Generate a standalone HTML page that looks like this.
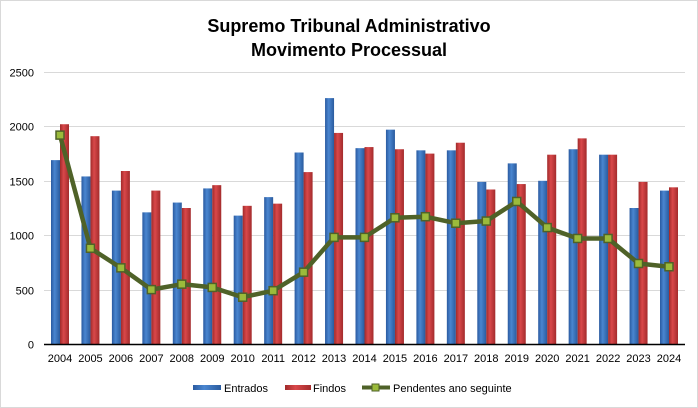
<!DOCTYPE html>
<html><head><meta charset="utf-8"><style>
html,body{margin:0;padding:0;background:#fff}
svg{display:block;font-family:"Liberation Sans",sans-serif}
</style></head><body>
<svg id="c" width="698" height="408" viewBox="0 0 698 408" xmlns="http://www.w3.org/2000/svg">
<defs>
<linearGradient id="gb" x1="0" x2="1" y1="0" y2="0"><stop offset="0" stop-color="#2a5aa0"/><stop offset="0.4" stop-color="#4a86d0"/><stop offset="1" stop-color="#2a5b9e"/></linearGradient>
<linearGradient id="gr" x1="0" x2="1" y1="0" y2="0"><stop offset="0" stop-color="#a02a2a"/><stop offset="0.4" stop-color="#d9484a"/><stop offset="1" stop-color="#a32b2c"/></linearGradient>
</defs>
<rect x="0.5" y="0.5" width="697" height="407" fill="#fff" stroke="#d9d9d9"/>
<text x="349" y="32" text-anchor="middle" font-size="18" font-weight="bold">Supremo  Tribunal  Administrativo</text>
<text x="349" y="56" text-anchor="middle" font-size="18" font-weight="bold">Movimento Processual</text>
<g id="grid" stroke="#d9d9d9" stroke-width="1"></g>
<g id="yl" font-size="11" text-anchor="end"></g>
<g id="bars"></g>
<line x1="44" y1="344.5" x2="685" y2="344.5" stroke="#000" stroke-width="1.5"/>
<g id="xl" font-size="11" text-anchor="middle"></g>
<g id="ln"></g>
<g font-size="11">
<rect x="193" y="385" width="28" height="5" fill="url(#gb)"/><text x="224" y="392">Entrados</text>
<rect x="285" y="385" width="26" height="5" fill="url(#gr)"/><text x="313" y="392">Findos</text>
<line x1="362" y1="387.5" x2="390" y2="387.5" stroke="#4f6228" stroke-width="4"/>
<rect x="372" y="384" width="7" height="7" fill="#9bbb3b" stroke="#4f6228"/>
<text x="393" y="392">Pendentes ano seguinte</text>
</g>
</svg>
<script>
var E=[1690,1540,1410,1210,1300,1430,1180,1350,1760,2260,1800,1970,1780,1780,1490,1660,1500,1790,1740,1250,1410];
var F=[2020,1910,1590,1410,1250,1460,1270,1290,1580,1940,1810,1790,1750,1850,1420,1470,1740,1890,1740,1490,1440];
var P=[1920,880,700,500,550,520,430,490,660,980,980,1160,1170,1110,1130,1310,1070,970,970,740,710];
var ns="http://www.w3.org/2000/svg";
function el(p,t,a,txt){var e=document.createElementNS(ns,t);for(var k in a)e.setAttribute(k,a[k]);if(txt!=null)e.textContent=txt;document.getElementById(p).appendChild(e);return e;}
function Y(v){return 344-v*0.1088;}
for(var v=0;v<=2500;v+=500){var y=Math.round(Y(v))+0.5;if(v>0)el("grid","line",{x1:44,x2:685,y1:y,y2:y});el("yl","text",{x:34,y:y+4},v);}
var pts=[];
for(var i=0;i<21;i++){var cx=60+30.45*i;
el("bars","rect",{x:cx-9,y:Y(E[i]),width:9,height:344-Y(E[i]),fill:"url(#gb)"});
el("bars","rect",{x:cx,y:Y(F[i]),width:9,height:344-Y(F[i]),fill:"url(#gr)"});
el("xl","text",{x:cx,y:362},2004+i);
pts.push(cx+","+Y(P[i]));}
el("ln","polyline",{points:pts.join(" "),fill:"none",stroke:"#4f6228","stroke-width":4.5,"stroke-linejoin":"round"});
for(var i=0;i<21;i++){var cx=60+30.45*i;el("ln","rect",{x:cx-4,y:Y(P[i])-4,width:8,height:8,fill:"#9bbb3b",stroke:"#4f6228","stroke-width":1.5});}
</script>
</body></html>
